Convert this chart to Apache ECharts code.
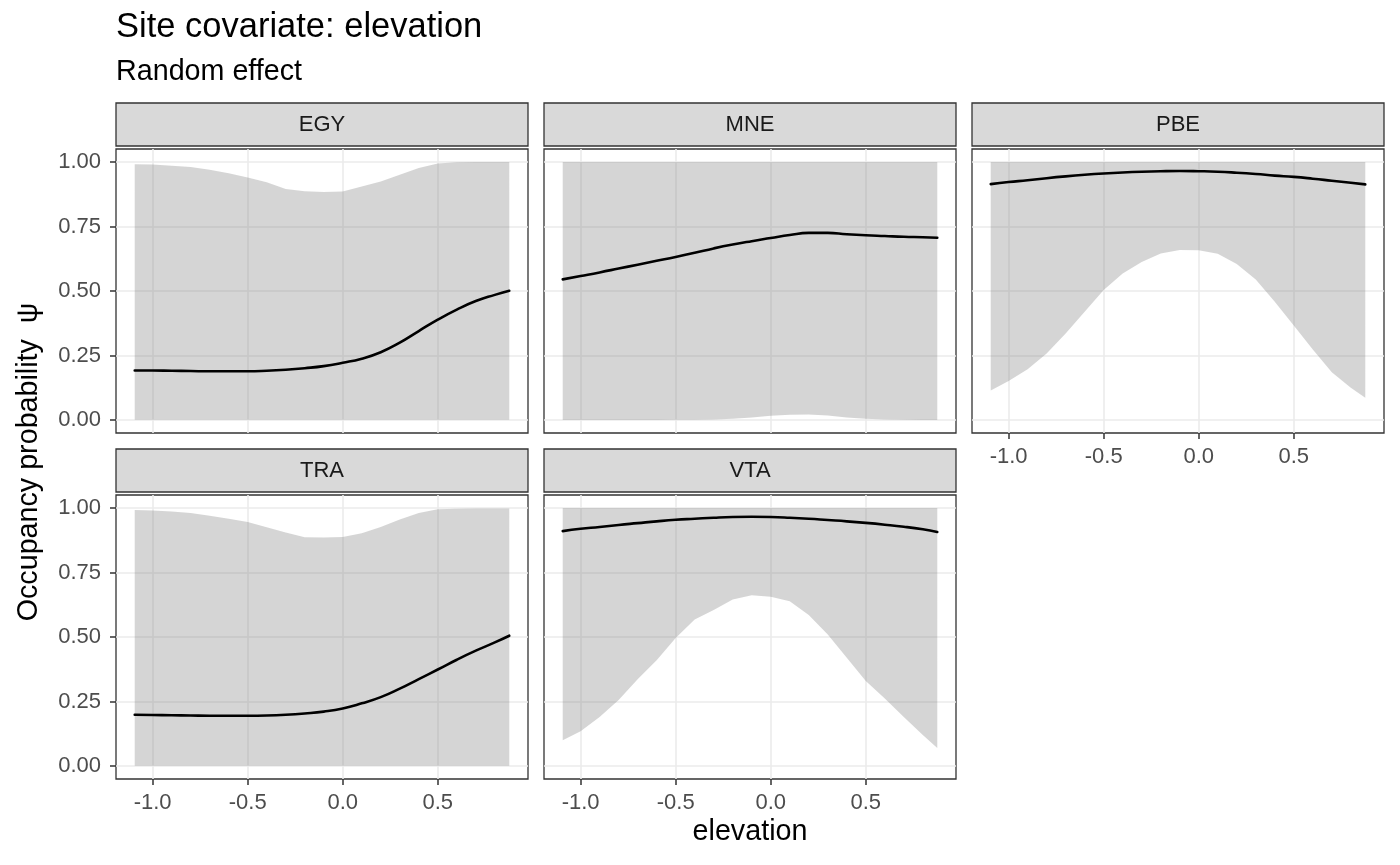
<!DOCTYPE html>
<html><head><meta charset="utf-8">
<script src="https://cdn.jsdelivr.net/npm/echarts@6/dist/echarts.min.js"></script>
<style>html,body{margin:0;padding:0;background:#fff}#c{width:1400px;height:865px}</style>
</head><body><div id="c"></div>
<script>
// ---- data ----
const elevation = [-1.094,-1.0,-0.9,-0.8,-0.7,-0.6,-0.5,-0.4,-0.3,-0.2,-0.1,0.0,0.1,0.2,0.3,0.4,0.5,0.6,0.7,0.8,0.876];
const panelNames = ['EGY','MNE','PBE','TRA','VTA'];

const egyMean  = [0.192,0.192,0.191,0.190,0.189,0.189,0.189,0.191,0.195,0.201,0.209,0.222,0.238,0.263,0.300,0.345,0.389,0.428,0.461,0.485,0.501];
const egyLower = [0.001,0.001,0.001,0.001,0.001,0.001,0.001,0.001,0.001,0.001,0.001,0.001,0.001,0.001,0.001,0.001,0.001,0.001,0.001,0.001,0.001];
const egyUpper = [0.991,0.990,0.985,0.980,0.970,0.956,0.940,0.921,0.895,0.886,0.883,0.885,0.905,0.924,0.950,0.976,0.994,0.999,1.0,1.0,1.0];

const mneMean  = [0.545,0.558,0.572,0.587,0.602,0.617,0.632,0.648,0.665,0.680,0.693,0.705,0.717,0.725,0.725,0.720,0.716,0.713,0.710,0.708,0.706];
const mneLower = [0.0,0.0,0.0,0.0,0.0,0.0,0.001,0.001,0.002,0.005,0.010,0.017,0.021,0.022,0.018,0.010,0.005,0.002,0.001,0.0,0.0];
const mneUpper = [1.0,1.0,1.0,1.0,1.0,1.0,1.0,1.0,1.0,1.0,1.0,1.0,1.0,1.0,1.0,1.0,1.0,1.0,1.0,1.0,1.0];

const pbeMean  = [0.914,0.922,0.929,0.937,0.944,0.950,0.955,0.959,0.962,0.964,0.965,0.964,0.962,0.958,0.953,0.947,0.942,0.935,0.927,0.919,0.913];
const pbeLower = [0.115,0.151,0.197,0.258,0.335,0.420,0.504,0.568,0.612,0.645,0.659,0.658,0.644,0.605,0.545,0.458,0.366,0.273,0.185,0.125,0.087];
const pbeUpper = [1.0,1.0,1.0,1.0,1.0,1.0,1.0,1.0,1.0,1.0,1.0,1.0,1.0,1.0,1.0,1.0,1.0,1.0,1.0,1.0,1.0];

const traMean  = [0.199,0.198,0.197,0.196,0.195,0.195,0.195,0.196,0.199,0.204,0.211,0.223,0.243,0.267,0.300,0.337,0.374,0.412,0.447,0.479,0.505];
const traLower = [0.001,0.001,0.001,0.001,0.001,0.001,0.001,0.001,0.001,0.001,0.001,0.001,0.001,0.001,0.001,0.001,0.001,0.001,0.001,0.001,0.001];
const traUpper = [0.992,0.990,0.986,0.980,0.970,0.958,0.945,0.925,0.905,0.886,0.885,0.887,0.902,0.926,0.955,0.980,0.995,0.997,0.998,0.998,0.998];

const vtaMean  = [0.910,0.919,0.926,0.934,0.941,0.948,0.954,0.958,0.962,0.965,0.966,0.965,0.962,0.958,0.953,0.948,0.942,0.935,0.927,0.917,0.907];
const vtaLower = [0.100,0.135,0.190,0.256,0.336,0.410,0.496,0.568,0.605,0.645,0.662,0.656,0.638,0.585,0.510,0.420,0.330,0.262,0.190,0.120,0.070];
const vtaUpper = [1.0,1.0,1.0,1.0,1.0,1.0,1.0,1.0,1.0,1.0,1.0,1.0,1.0,1.0,1.0,1.0,1.0,1.0,1.0,1.0,1.0];

const xTickValues = [-1.0,-0.5,0.0,0.5];
const yTickValues = [0,0.25,0.5,0.75,1.0];

const titleText = 'Site covariate: elevation';
const subtitleText = 'Random effect';
const xTitle = 'elevation';
const yTitle = 'Occupancy probability  \u03C8';

// ---- layout / style ----
const FONT = "'Liberation Sans', Arial, Helvetica, sans-serif";
const PW = 412, PH = 284, SH = 43;
const layout = [
  {left:116, top:149, xl:false, yl:true},
  {left:544, top:149, xl:false, yl:false},
  {left:972, top:149, xl:true,  yl:false},
  {left:116, top:495, xl:true,  yl:true},
  {left:544, top:495, xl:true,  yl:false}
];
const X_MIN = -1.1925, X_MAX = 0.9745, Y_MIN = -0.05, Y_MAX = 1.05;
const bandColor = 'rgba(115,115,115,0.30)';

const panelData = [
  [egyMean, egyLower, egyUpper],
  [mneMean, mneLower, mneUpper],
  [pbeMean, pbeLower, pbeUpper],
  [traMean, traLower, traUpper],
  [vtaMean, vtaLower, vtaUpper]
];

const grid = [], xAxis = [], yAxis = [], series = [], graphic = [];
layout.forEach((L, i) => {
  grid.push({left:L.left, top:L.top, width:PW, height:PH, show:true,
    borderColor:'#333333', borderWidth:1.3, backgroundColor:'#ffffff', containLabel:false});
  xAxis.push({type:'value', gridIndex:i, min:X_MIN, max:X_MAX, position:'bottom',
    axisLine:{show:false, onZero:false},
    axisTick:{show:L.xl, length:6, lineStyle:{color:'#333333', width:1.5}, customValues:xTickValues},
    axisLabel:{show:L.xl, customValues:xTickValues, margin:13, color:'#4D4D4D', fontSize:22, fontFamily:FONT,
      formatter:v => v.toFixed(1)},
    splitLine:{show:true, lineStyle:{color:'#EBEBEB', width:1.6}},
    minorSplitLine:{show:false}
  });
  yAxis.push({type:'value', gridIndex:i, min:Y_MIN, max:Y_MAX, position:'left',
    axisLine:{show:false, onZero:false},
    axisTick:{show:L.yl, length:6, lineStyle:{color:'#333333', width:1.5}, customValues:yTickValues},
    axisLabel:{show:L.yl, customValues:yTickValues, margin:15, color:'#4D4D4D', fontSize:22, fontFamily:FONT,
      formatter:v => v.toFixed(2)},
    splitLine:{show:true, lineStyle:{color:'#EBEBEB', width:1.6}}
  });
  const [mean, lower, upper] = panelData[i];
  // ribbon: one polygon through the axis scales
  series.push({type:'custom', xAxisIndex:i, yAxisIndex:i, silent:true, z:2,
    data:[[elevation[0], lower[0]]],
    renderItem:(params, api) => {
      const pts = [];
      for (let k = 0; k < elevation.length; k++) pts.push(api.coord([elevation[k], upper[k]]));
      for (let k = elevation.length - 1; k >= 0; k--) pts.push(api.coord([elevation[k], lower[k]]));
      return {type:'polygon', shape:{points:pts}, style:{fill:bandColor, stroke:null}};
    }
  });
  series.push({type:'line', xAxisIndex:i, yAxisIndex:i, silent:true,
    data: elevation.map((x,k) => [x, mean[k]]),
    showSymbol:false, smooth:0.5, lineStyle:{color:'#000000', width:2.6, cap:'round', join:'round'}, z:3});

  // strip
  graphic.push({type:'rect', shape:{x:L.left, y:L.top-SH-3, width:PW, height:SH},
    style:{fill:'#D9D9D9', stroke:'#333333', lineWidth:1.3}, z:10});
  graphic.push({type:'text', x:L.left+PW/2, y:L.top-3-SH/2,
    style:{text:panelNames[i], font:'22px ' + FONT, fill:'#1A1A1A', align:'center', verticalAlign:'middle'}, z:11});
});

graphic.push({type:'text', x:116, y:27,
  style:{text:titleText, font:'34.5px ' + FONT, fill:'#000000', align:'left', verticalAlign:'middle'}});
graphic.push({type:'text', x:116, y:72,
  style:{text:subtitleText, font:'28.7px ' + FONT, fill:'#000000', align:'left', verticalAlign:'middle'}});
graphic.push({type:'text', x:750, y:832,
  style:{text:xTitle, font:'28.7px ' + FONT, fill:'#000000', align:'center', verticalAlign:'middle'}});
graphic.push({type:'text', x:29, y:462, rotation:Math.PI/2,
  style:{text:yTitle, font:'28.7px ' + FONT, fill:'#000000', align:'center', verticalAlign:'middle'}});

const chart = echarts.init(document.getElementById('c'), null, {renderer:'canvas'});
chart.setOption({animation:false, backgroundColor:'#ffffff', grid, xAxis, yAxis, series, graphic});
</script></body></html>
